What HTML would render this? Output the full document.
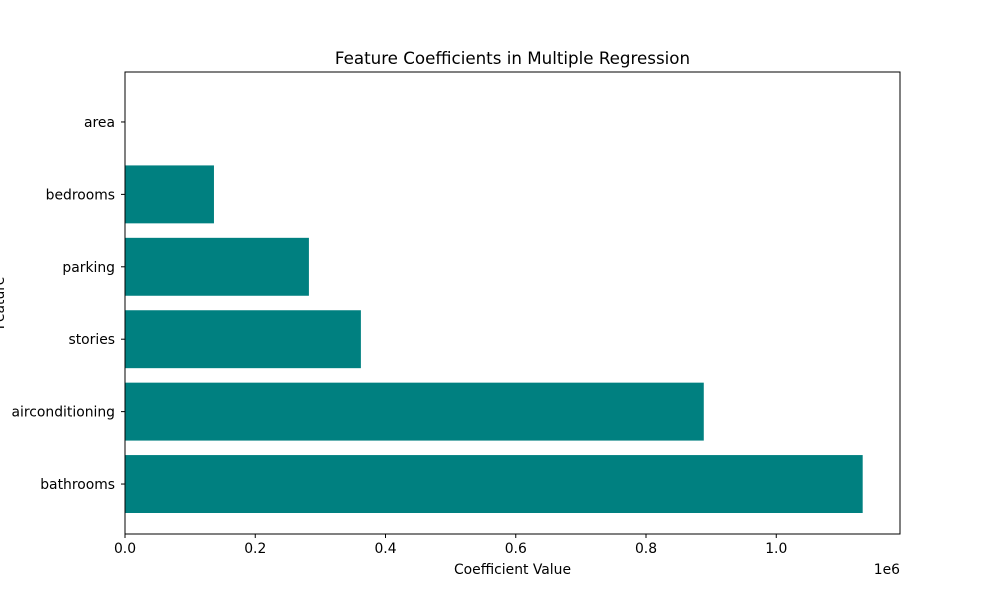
<!DOCTYPE html>
<html><head><meta charset="utf-8"><style>
html,body{margin:0;padding:0;background:#fff;}
svg{display:block;font-family:"DejaVu Sans","Liberation Sans",sans-serif;}
</style></head><body>
<svg id="chart" width="1000" height="600" viewBox="0 0 1000 600">
<rect width="1000" height="600" fill="#fff"/>
<text x="512.5" y="64" text-anchor="middle" font-size="16.7">Feature Coefficients in Multiple Regression</text>
<g id="bars"></g>
<g id="axes"></g>
<text x="512.5" y="574" text-anchor="middle" font-size="13.9">Coefficient Value</text>
<text transform="translate(4,303) rotate(-90)" text-anchor="middle" font-size="13.9">Feature</text>
<text x="900" y="574" text-anchor="end" font-size="13.9">1e6</text>
</svg>
<script>
const categories = ["area","bedrooms","parking","stories","airconditioning","bathrooms"];
const values = [244, 136600, 282400, 362200, 888700, 1132700];
const xTicks = [0, 0.2, 0.4, 0.6, 0.8, 1.0];
const xTickLabels = ["0.0","0.2","0.4","0.6","0.8","1.0"];

const L=125,R=900,T=72,B=534;
const xMax = 1.19e6;
const x = v => L + v/xMax*(R-L);
const n = categories.length;
const yMin = -0.69, yMax = n-1+0.69;
const y = i => T + (i - yMin)/(yMax-yMin)*(B-T);
const NS="http://www.w3.org/2000/svg";
const bars=document.getElementById('bars'), axes=document.getElementById('axes');
function mk(tag, attrs, parent){const e=document.createElementNS(NS,tag);for(const k in attrs)e.setAttribute(k,attrs[k]);parent.appendChild(e);return e;}
const bh = 0.8*(B-T)/(yMax-yMin);
categories.forEach((c,i)=>{
  const r=mk('rect',{x:x(0),y:y(i)-bh/2,width:Math.max(0,x(values[i])-x(0)),height:bh,fill:'#008080'},bars);
  
  
  const t=mk('line',{x1:L-4,x2:L,y1:y(i),y2:y(i),stroke:'#000','stroke-width':1},axes);
  
  
  const lb=mk('text',{x:L-10,y:y(i)+5,'text-anchor':'end','font-size':13.9},axes);
  lb.textContent=c;
  
  
});
const zl=mk('line',{x1:x(0),x2:x(0),y1:T,y2:B,stroke:'#f08080','stroke-width':1,'stroke-dasharray':'4,2'},axes);


xTicks.forEach((v,i)=>{
  const t=mk('line',{x1:x(v*1e6),x2:x(v*1e6),y1:B,y2:B+4,stroke:'#000','stroke-width':1},axes);
  
  
  const lb=mk('text',{x:x(v*1e6),y:B+19,'text-anchor':'middle','font-size':13.9},axes);
  lb.textContent=xTickLabels[i];
  
  
});
const fr=mk('rect',{x:L,y:T,width:R-L,height:B-T,fill:'none',stroke:'#000','stroke-width':1},axes);


</script>
</body></html>
